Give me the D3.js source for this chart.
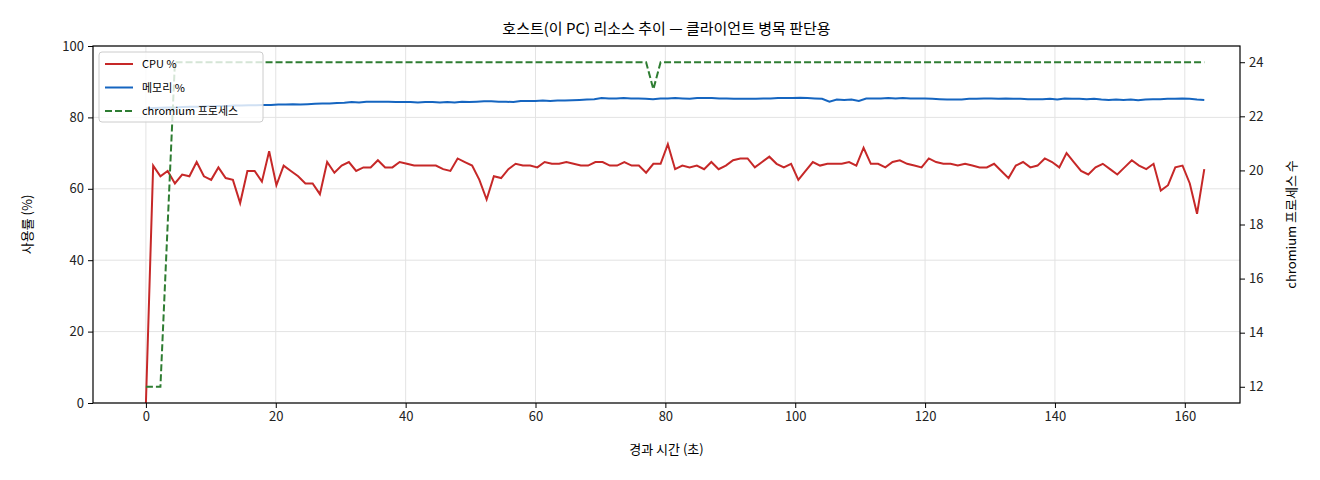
<!DOCTYPE html>
<html><head><meta charset="utf-8">
<script src="https://cdn.jsdelivr.net/npm/d3@7"></script>
<style>body{margin:0;background:#fff}text{font-family:"Noto Sans CJK KR","DejaVu Sans",sans-serif}</style>
</head><body><svg id="c" width="1320" height="480"></svg>
<script>
const title = "호스트(이 PC) 리소스 추이 — 클라이언트 병목 판단용";
const xLabel = "경과 시간 (초)";
const yLabel = "사용률 (%)";
const y2Label = "chromium 프로세스 수";
const seriesNames = ["CPU %", "메모리 %", "chromium 프로세스"];
const duration = 163;
const cpu = [0,66.5,63.5,65,61.5,64,63.5,67.5,63.5,62.5,66,63,62.5,56,65,65,62,70.5,61,66.5,65,63.5,61.5,61.5,58.5,67.5,64.5,66.5,67.5,65,66,66,68,66,66,67.5,67,66.5,66.5,66.5,66.5,65.5,65,68.5,67.5,66.5,62.5,57,63.5,63,65.5,67,66.5,66.5,66,67.5,67,67,67.5,67,66.5,66.5,67.5,67.5,66.5,66.5,67.5,66.5,66.5,64.5,67,67,72.5,65.5,66.5,66,66.5,65.5,67.5,65.5,66.5,68,68.5,68.5,66,67.5,69,67,66,67,62.5,65,67.5,66.5,67,67,67,67.5,66.5,71.5,67,67,66,67.5,68,67,66.5,66,68.5,67.5,67,67,66.5,67,66.5,66,66,67,65,63,66.5,67.5,66,66.5,68.5,67.5,66,70,67.5,65,64,66,67,65.5,64,66,68,66.5,65.5,67,59.5,61,66,66.5,61.5,53,65.5];
const mem = [82.5,82.6,82.7,82.8,82.8,82.9,83,83,83.1,83.1,83.2,83.2,83.3,83.3,83.4,83.4,83.5,83.5,83.6,83.6,83.7,83.6,83.7,83.8,83.9,83.9,84,84.1,84.3,84.2,84.4,84.4,84.4,84.4,84.3,84.3,84.3,84.2,84.3,84.3,84.2,84.3,84.2,84.4,84.3,84.4,84.5,84.5,84.4,84.4,84.3,84.6,84.6,84.6,84.7,84.6,84.7,84.7,84.8,84.9,85,85.1,85.4,85.3,85.3,85.4,85.3,85.3,85.2,85.1,85.3,85.3,85.4,85.3,85.2,85.4,85.4,85.4,85.3,85.3,85.2,85.2,85.2,85.2,85.3,85.3,85.4,85.4,85.4,85.5,85.4,85.3,85.2,84.4,85,84.9,85,84.6,85.3,85.3,85.3,85.4,85.3,85.4,85.3,85.3,85.3,85.2,85.1,85,85,85,85.2,85.2,85.3,85.3,85.2,85.3,85.2,85.2,85.1,85.1,85.1,85.2,85.0,85.3,85.2,85.2,85.1,85.2,85,84.9,85,84.9,85,84.8,85,85.1,85.1,85.2,85.2,85.3,85.2,85,84.9];
const procs = cpu.map((_, i) => i < 3 ? 12 : i === 3 ? 18 : i === 4 ? 24 : i === 70 ? 23 : 24);
const xTicks = [0,20,40,60,80,100,120,140,160];
const yTicks = [0,20,40,60,80,100];
const y2Ticks = [12,14,16,18,20,22,24];

const svg = d3.select("#c");
const L=93,R=1240,T=46,B=403;
const x = d3.scaleLinear().domain([-8.15,168.5]).range([L,R]);
const y = d3.scaleLinear().domain([0,100]).range([B,T]);
const y2 = d3.scaleLinear().domain([11.4,24.6]).range([B,T]);
svg.append("g").selectAll("line").data(xTicks).join("line").attr("x1",d=>x(d)).attr("x2",d=>x(d)).attr("y1",T).attr("y2",B).attr("stroke","#e3e3e3");
svg.append("g").selectAll("line").data(yTicks).join("line").attr("y1",d=>y(d)).attr("y2",d=>y(d)).attr("x1",L).attr("x2",R).attr("stroke","#e3e3e3");
const line = (arr, sc) => d3.line().x((d,i)=>x(i*duration/(arr.length-1))).y(d=>sc(d))(arr);
svg.append("path").attr("d",line(cpu,y)).attr("fill","none").attr("stroke","#c62828").attr("stroke-width",2);
svg.append("path").attr("d",line(mem,y)).attr("fill","none").attr("stroke","#1565c0").attr("stroke-width",2);
svg.append("path").attr("d",line(procs,y2)).attr("fill","none").attr("stroke","#2e7d32").attr("stroke-width",2).attr("stroke-dasharray","7,3");
svg.append("rect").attr("x",L).attr("y",T).attr("width",R-L).attr("height",B-T).attr("fill","none").attr("stroke","#000").attr("stroke-width",1.2);
const fs = 13;
const ax = svg.append("g").attr("transform",`translate(0,${B})`).call(d3.axisBottom(x).tickValues(xTicks).tickSize(5).tickPadding(4));
const ay = svg.append("g").attr("transform",`translate(${L},0)`).call(d3.axisLeft(y).tickValues(yTicks).tickSize(5).tickPadding(4));
const ay2 = svg.append("g").attr("transform",`translate(${R},0)`).call(d3.axisRight(y2).tickValues(y2Ticks).tickSize(5).tickPadding(4));
[ax,ay,ay2].forEach(g=>{g.select(".domain").remove();g.selectAll("text").attr("font-size",fs).attr("fill","#222");});
svg.append("text").attr("x",(L+R)/2).attr("y",34).attr("text-anchor","middle").attr("font-size",15).text(title);
svg.append("text").attr("x",(L+R)/2).attr("y",454).attr("text-anchor","middle").attr("font-size",13).text(xLabel);
svg.append("text").attr("transform",`translate(32,${(T+B)/2}) rotate(-90)`).attr("text-anchor","middle").attr("font-size",13).text(yLabel);
svg.append("text").attr("transform",`translate(1296,${(T+B)/2}) rotate(-90)`).attr("text-anchor","middle").attr("font-size",13).text(y2Label);
const lg = svg.append("g").attr("transform","translate(99,52)");
lg.append("rect").attr("width",164).attr("height",70).attr("rx",3).attr("fill","rgba(255,255,255,0.8)").attr("stroke","#ccc");
const cols=["#c62828","#1565c0","#2e7d32"];
seriesNames.forEach((s,i)=>{
  const yy=12+i*23.5;
  lg.append("line").attr("x1",6).attr("x2",34).attr("y1",yy).attr("y2",yy).attr("stroke",cols[i]).attr("stroke-width",2).attr("stroke-dasharray",i===2?"7,3":null);
  lg.append("text").attr("x",43).attr("y",yy+4).attr("font-size",11).text(s);
});
</script></body></html>
